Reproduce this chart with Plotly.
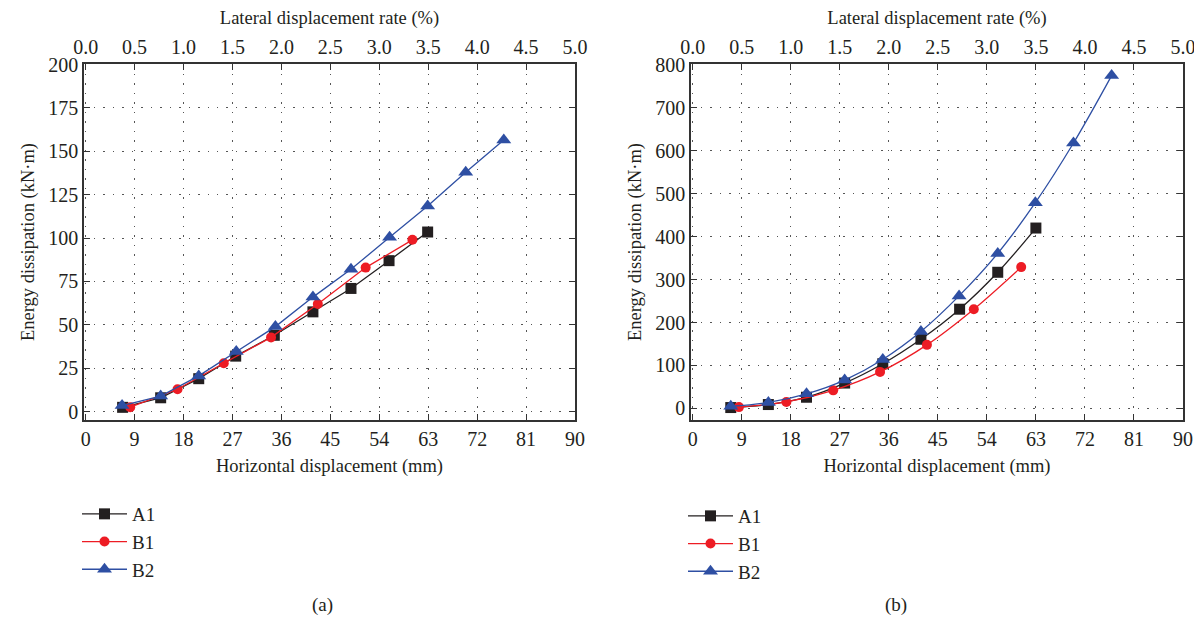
import plotly.graph_objects as go

# ---------------- data ----------------
# (a)
a_A1_x = [6.8, 13.8, 20.8, 27.6, 34.7, 41.8, 48.8, 55.8, 62.9]
a_A1_y = [2.5, 8.0, 19.0, 32.0, 44.0, 57.5, 71.0, 87.0, 103.5]
a_B1_x = [8.2, 16.9, 25.4, 34.1, 42.7, 51.5, 60.1]
a_B1_y = [2.6, 12.9, 27.9, 42.8, 62.0, 83.0, 99.0]
a_B2_x = [6.7, 13.8, 20.8, 27.7, 34.9, 41.8, 48.8, 55.9, 62.9, 69.9, 76.9]
a_B2_y = [3.5, 9.0, 20.6, 34.6, 49.0, 66.0, 82.0, 100.5, 118.5, 138.0, 156.5]
# (b)
b_A1_x = [7.0, 13.9, 20.9, 27.9, 34.9, 41.9, 49.0, 56.0, 63.0]
b_A1_y = [2, 9, 26, 59, 104, 161, 231, 317, 420]
b_B1_x = [8.5, 17.2, 25.8, 34.4, 43.0, 51.6, 60.3]
b_B1_y = [3, 15, 42, 85, 148, 231, 329]
b_B2_x = [7.0, 13.9, 20.9, 27.9, 34.9, 41.9, 48.9, 56.0, 62.9, 69.9, 76.9]
b_B2_y = [5, 14, 34, 66, 114, 179, 262, 361, 479, 618, 775]

x_ticks_mm = [0, 9, 18, 27, 36, 45, 54, 63, 72, 81, 90]
x_ticks_pct = [0.0, 0.5, 1.0, 1.5, 2.0, 2.5, 3.0, 3.5, 4.0, 4.5, 5.0]
a_y_ticks = [0, 25, 50, 75, 100, 125, 150, 175, 200]
b_y_ticks = [0, 100, 200, 300, 400, 500, 600, 700, 800]
series_names = ["A1", "B1", "B2"]

# ---------------- styling ----------------
FONT = "Liberation Serif"
TXT = "#231f20"
BLACK = "#231f20"
RED = "#ed1c24"
BLUE = "#2e4fa3"
W, H = 1202, 624
OFF = 8  # page body margin

def px_x(p):
    return (p - OFF) / W

def px_y(p):
    return 1 - (p - OFF) / H

fig = go.Figure()

styles = [
    (BLACK, "square", 11),
    (RED, "circle", 10),
    (BLUE, "triangle-up", 13),
]

a_data = [(a_A1_x, a_A1_y), (a_B1_x, a_B1_y), (a_B2_x, a_B2_y)]
b_data = [(b_A1_x, b_A1_y), (b_B1_x, b_B1_y), (b_B2_x, b_B2_y)]

for i, ((xs, ys), (col, sym, sz)) in enumerate(zip(a_data, styles)):
    fig.add_trace(go.Scatter(
        x=xs, y=ys, mode="lines+markers", name=series_names[i],
        line=dict(color=col, width=1.3),
        marker=dict(symbol=sym, size=sz, color=col),
        xaxis="x", yaxis="y", legend="legend", legendgroup="a" + series_names[i],
    ))

for i, ((xs, ys), (col, sym, sz)) in enumerate(zip(b_data, styles)):
    fig.add_trace(go.Scatter(
        x=xs, y=ys, mode="lines+markers", name=series_names[i],
        line=dict(color=col, width=1.3, shape="spline"),
        marker=dict(symbol=sym, size=sz, color=col),
        xaxis="x2", yaxis="y2", legend="legend2", legendgroup="b" + series_names[i],
    ))

dom_y = [px_y(420), px_y(64)]
dom_a = [px_x(84), px_x(575)]
dom_b = [px_x(691), px_x(1183)]

tickfont = dict(family=FONT, size=20, color=TXT)
titlefont = dict(family=FONT, size=18.5, color=TXT)
GRID = dict(showgrid=True, gridcolor="#555555", gridwidth=1, griddash="1.5px,8px")
LINE = dict(showline=True, linecolor="#333333", linewidth=1.5, ticks="inside",
            ticklen=6, tickcolor="#333333", tickwidth=1.2, zeroline=False)

xr = [-0.3, 90]
pr = [xr[0] / 18, xr[1] / 18]

def bottom_x(domain, anchor):
    return dict(domain=domain, anchor=anchor, range=xr, tickvals=x_ticks_mm,
                ticktext=[str(v) for v in x_ticks_mm], tickfont=tickfont,
                title=dict(text="Horizontal displacement (mm)", font=titlefont, standoff=10),
                mirror="ticks", automargin=False, **GRID, **LINE)

def top_x(over, anchor):
    return dict(overlaying=over, anchor=anchor, side="top", range=pr,
                tickvals=x_ticks_pct, ticktext=["%.1f" % v for v in x_ticks_pct],
                tickfont=tickfont,
                title=dict(text="Lateral displacement rate (%)", font=titlefont, standoff=8),
                showgrid=False, automargin=False, **LINE)

def left_y(anchor, rng, ticks):
    return dict(domain=dom_y, anchor=anchor, range=rng, tickvals=ticks,
                ticktext=[str(v) for v in ticks], tickfont=tickfont,
                title=dict(text="Energy dissipation (kN·m)", font=titlefont, standoff=9),
                mirror="ticks", automargin=False, **GRID, **LINE)

fig.update_layout(
    width=W, height=H,
    margin=dict(l=0, r=0, t=0, b=0),
    paper_bgcolor="white", plot_bgcolor="white",
    font=dict(family=FONT, color=TXT),
    xaxis=bottom_x(dom_a, "y"),
    xaxis2=bottom_x(dom_b, "y2"),
    xaxis3=top_x("x", "y"),
    xaxis4=top_x("x2", "y2"),
    yaxis=left_y("x", [-4.8, 200.3], a_y_ticks),
    yaxis2=left_y("x2", [-27, 802], b_y_ticks),
    legend=dict(x=px_x(77), y=px_y(495), xanchor="left", yanchor="top",
                font=dict(family=FONT, size=19, color=TXT), tracegroupgap=0,
                itemwidth=45, bgcolor="rgba(0,0,0,0)"),
    legend2=dict(x=px_x(683), y=px_y(497), xanchor="left", yanchor="top",
                 font=dict(family=FONT, size=19, color=TXT), tracegroupgap=0,
                 itemwidth=45, bgcolor="rgba(0,0,0,0)"),
    annotations=[
        dict(text="(a)", x=px_x(322), y=px_y(605), xref="paper", yref="paper",
             xanchor="center", yanchor="middle",
             showarrow=False, font=dict(family=FONT, size=19, color=TXT)),
        dict(text="(b)", x=px_x(896), y=px_y(605), xref="paper", yref="paper",
             xanchor="center", yanchor="middle",
             showarrow=False, font=dict(family=FONT, size=19, color=TXT)),
    ],
)

# invisible helper traces so the top axes are rendered
fig.add_trace(go.Scatter(x=[None], y=[None], xaxis="x3", yaxis="y", showlegend=False, hoverinfo="skip"))
fig.add_trace(go.Scatter(x=[None], y=[None], xaxis="x4", yaxis="y2", showlegend=False, hoverinfo="skip"))

fig.write_html("out.html")
